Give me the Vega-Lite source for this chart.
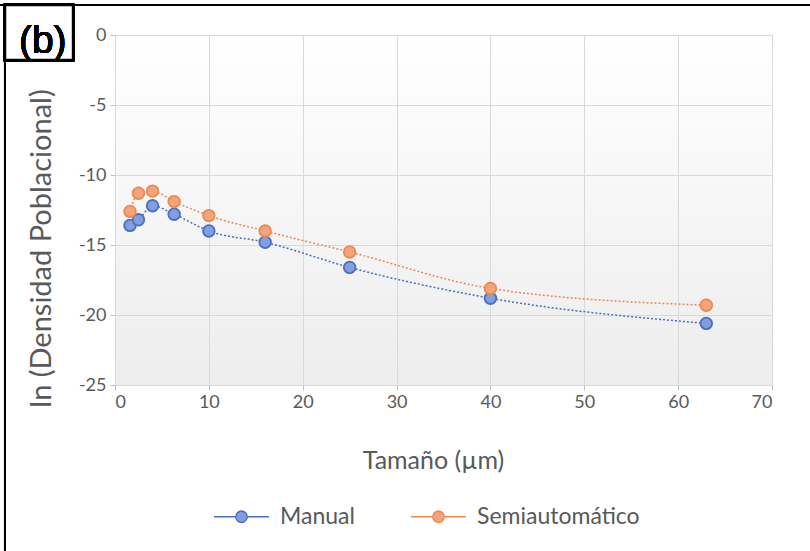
{
  "$schema": "https://vega.github.io/schema/vega-lite/v6.json",
  "width": 657,
  "height": 350,
  "autosize": {"type": "none"},
  "padding": {"left": 115, "top": 35, "right": 38, "bottom": 166},
  "background": "#ffffff",
  "config": {
    "font": "Lato",
    "view": {
      "stroke": null,
      "fill": {
        "gradient": "linear",
        "x1": 0, "y1": 0, "x2": 0, "y2": 1,
        "stops": [
          {"offset": 0, "color": "#ffffff"},
          {"offset": 1, "color": "#ededed"}
        ]
      }
    },
    "axis": {
      "labelFont": "Lato",
      "labelFontSize": 18,
      "labelColor": "#595959",
      "labelExpr": "replace(datum.label, '−', '-')",
      "titleFont": "Lato",
      "titleFontWeight": "normal",
      "titleColor": "#595959",
      "gridColor": "#d9d9d9",
      "domainColor": "#d9d9d9",
      "tickColor": "#bfbfbf",
      "tickSize": 5
    },
    "legend": {
      "orient": "none",
      "direction": "horizontal",
      "legendX": 112,
      "legendY": 467,
      "title": null,
      "symbolType": "M-2,0 L-0.42,0 M0.42,0 L2,0 M-0.42,0 A0.42,0.42 0 1,1 0.42,0 A0.42,0.42 0 1,1 -0.42,0 Z",
      "symbolSize": 756,
      "symbolStrokeWidth": 1.3,
      "symbolOpacity": 1,
      "labelFont": "Lato",
      "labelFontSize": 23,
      "labelColor": "#595959",
      "labelLimit": 400,
      "labelOffset": 24,
      "columnPadding": 53
    }
  },
  "data": {
    "values": [
      {"tamano": 1.6, "lnd": -13.6, "serie": "Manual"},
      {"tamano": 2.5, "lnd": -13.2, "serie": "Manual"},
      {"tamano": 4, "lnd": -12.2, "serie": "Manual"},
      {"tamano": 6.3, "lnd": -12.8, "serie": "Manual"},
      {"tamano": 10, "lnd": -14.0, "serie": "Manual"},
      {"tamano": 16, "lnd": -14.8, "serie": "Manual"},
      {"tamano": 25, "lnd": -16.6, "serie": "Manual"},
      {"tamano": 40, "lnd": -18.8, "serie": "Manual"},
      {"tamano": 63, "lnd": -20.6, "serie": "Manual"},
      {"tamano": 1.6, "lnd": -12.6, "serie": "Semiautomático"},
      {"tamano": 2.5, "lnd": -11.3, "serie": "Semiautomático"},
      {"tamano": 4, "lnd": -11.15, "serie": "Semiautomático"},
      {"tamano": 6.3, "lnd": -11.9, "serie": "Semiautomático"},
      {"tamano": 10, "lnd": -12.9, "serie": "Semiautomático"},
      {"tamano": 16, "lnd": -14.0, "serie": "Semiautomático"},
      {"tamano": 25, "lnd": -15.5, "serie": "Semiautomático"},
      {"tamano": 40, "lnd": -18.1, "serie": "Semiautomático"},
      {"tamano": 63, "lnd": -19.3, "serie": "Semiautomático"}
    ]
  },
  "layer": [
    {
      "mark": {"type": "line", "interpolate": "monotone", "strokeDash": [2, 2], "strokeWidth": 1.5},
      "encoding": {
        "x": {
          "field": "tamano", "type": "quantitative",
          "scale": {"domain": [0, 70], "nice": false},
          "axis": {
            "values": [0, 10, 20, 30, 40, 50, 60, 70],
            "title": "Tamaño (µm)",
            "titleFontSize": 25,
            "titleX": 318,
            "titleY": 83,
            "titleBaseline": "alphabetic",
            "labelPadding": 3
          }
        },
        "y": {
          "field": "lnd", "type": "quantitative",
          "scale": {"domain": [-25, 0], "nice": false},
          "axis": {
            "values": [0, -5, -10, -15, -20, -25],
            "title": "ln (Densidad Poblacional)",
            "titleFontSize": 29,
            "titleX": -65,
            "titleY": 213,
            "titleAngle": -90,
            "titleAlign": "center",
            "titleBaseline": "alphabetic",
            "labelPadding": 4
          }
        },
        "stroke": {
          "field": "serie", "type": "nominal",
          "scale": {"domain": ["Manual", "Semiautomático"], "range": ["#4a6fc0", "#eb8a4f"]}
        }
      }
    },
    {
      "mark": {"type": "point", "shape": "circle", "filled": true, "size": 135, "strokeWidth": 1.8, "opacity": 1},
      "encoding": {
        "x": {"field": "tamano", "type": "quantitative"},
        "y": {"field": "lnd", "type": "quantitative"},
        "fill": {
          "field": "serie", "type": "nominal",
          "scale": {"domain": ["Manual", "Semiautomático"], "range": ["#7f9fe0", "#f4a37a"]}
        },
        "stroke": {
          "field": "serie", "type": "nominal"
        }
      }
    },
    {
      "mark": {"type": "rect", "fill": "#ffffff", "stroke": "#000000", "strokeWidth": 2.5, "clip": false},
      "encoding": {
        "x": {"datum": -11.72, "type": "quantitative"},
        "x2": {"datum": -4.47},
        "y": {"datum": 2.14, "type": "quantitative"},
        "y2": {"datum": -1.79}
      }
    },
    {
      "mark": {"type": "text", "text": "(b)", "fontSize": 39, "fontWeight": "normal", "font": "Liberation Sans", "color": "#000000", "align": "center", "baseline": "middle", "clip": false},
      "encoding": {
        "x": {"datum": -7.7, "type": "quantitative"},
        "y": {"datum": -0.4, "type": "quantitative"}
      }
    },
    {
      "mark": {"type": "rule", "color": "#000000", "strokeWidth": 2, "clip": false},
      "encoding": {
        "x": {"datum": -12.3, "type": "quantitative"},
        "x2": {"datum": 74.1},
        "y": {"datum": 2.14, "type": "quantitative"}
      }
    },
    {
      "mark": {"type": "rule", "color": "#000000", "strokeWidth": 2, "clip": false},
      "encoding": {
        "x": {"datum": -11.72, "type": "quantitative"},
        "y": {"datum": 2.14, "type": "quantitative"},
        "y2": {"datum": -36.9}
      }
    }
  ]
}
